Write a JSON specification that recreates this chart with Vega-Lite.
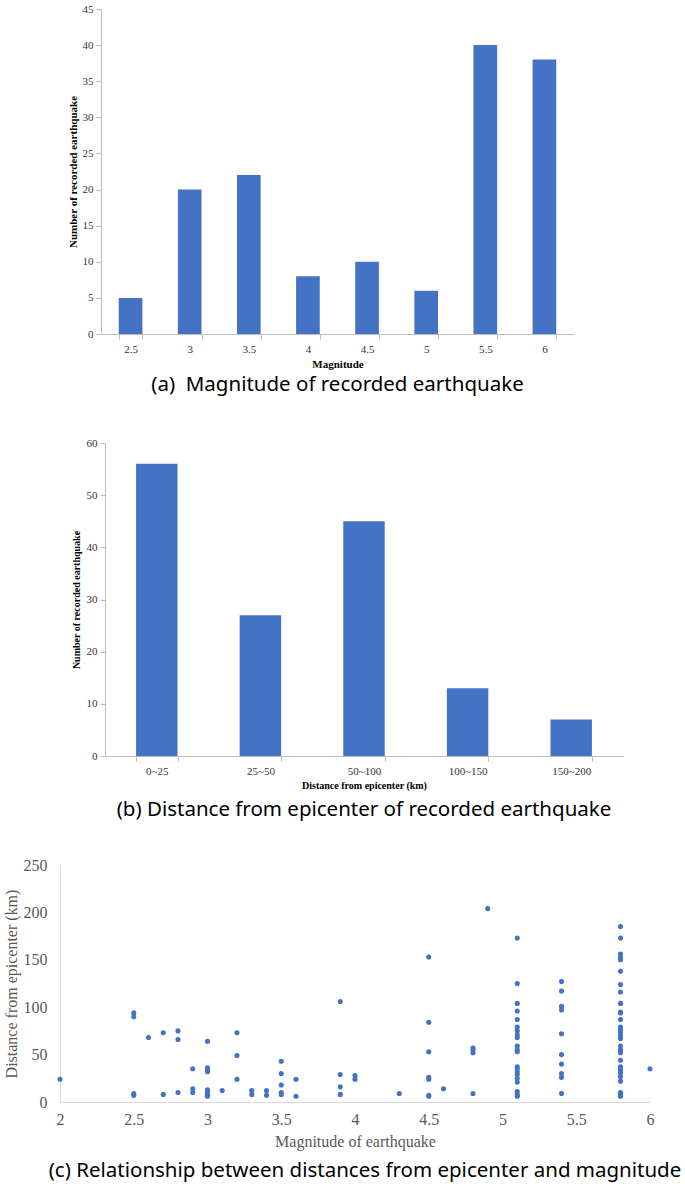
{
  "$schema": "https://vega.github.io/schema/vega-lite/v6.json",
  "background": "white",
  "padding": {"left": 3, "top": 3, "right": 0, "bottom": 0},
  "spacing": 0,
  "config": {
    "view": {"stroke": null},
    "font": "Liberation Serif",
    "title": {"font": "Noto Sans", "fontSize": 20.5, "fontWeight": "normal", "color": "#000000", "orient": "bottom", "frame": "group", "anchor": "middle"}
  },
  "vconcat": [
    {
      "bounds": "flush",
      "spacing": 0,
      "hconcat": [
        {"width": 41, "height": 428, "data": {"values": []}, "mark": {"type": "point", "opacity": 0}},
        {
          "width": 473,
          "height": 325,
          "title": {"text": "(a)\u00a0 Magnitude of recorded earthquake", "offset": 6},
          "data": {"values": [
            {"magnitude": "2.5", "count": 5},
            {"magnitude": "3", "count": 20},
            {"magnitude": "3.5", "count": 22},
            {"magnitude": "4", "count": 8},
            {"magnitude": "4.5", "count": 10},
            {"magnitude": "5", "count": 6},
            {"magnitude": "5.5", "count": 40},
            {"magnitude": "6", "count": 38}
          ]},
          "mark": {"type": "bar", "color": "#4472C4"},
          "encoding": {
            "x": {"field": "magnitude", "type": "ordinal", "sort": null,
              "scale": {"paddingInner": 0.6, "paddingOuter": 0.3},
              "axis": {"title": "Magnitude", "titleFont": "Liberation Serif", "titleFontWeight": "bold", "titleFontSize": 11, "titleColor": "#000000", "titlePadding": 4,
                "labelAngle": 0, "labelFontSize": 11, "labelColor": "#333333", "labelPadding": 4,
                "tickBand": "extent", "tickSize": 5, "tickColor": "#bfbfbf", "domainColor": "#bfbfbf", "grid": false}},
            "y": {"field": "count", "type": "quantitative", "scale": {"domain": [0, 45]},
              "axis": {"title": "Number of recorded earthquake", "values": [0, 5, 10, 15, 20, 25, 30, 35, 40, 45],
                "titleFont": "Liberation Serif", "titleFontWeight": "bold", "titleFontSize": 11, "titleColor": "#000000", "titlePadding": 4,
                "labelFontSize": 11, "labelColor": "#333333", "labelPadding": 3,
                "tickSize": 5, "tickColor": "#bfbfbf", "domainColor": "#bfbfbf", "grid": false}}
          }
        }
      ]
    },
    {
      "bounds": "flush",
      "spacing": 0,
      "hconcat": [
        {"width": 45, "height": 414, "data": {"values": []}, "mark": {"type": "point", "opacity": 0}},
        {
          "width": 518,
          "height": 313,
          "title": {"text": "(b) Distance from epicenter of recorded earthquake", "offset": 10},
          "data": {"values": [
            {"distance": "0~25", "count": 56},
            {"distance": "25~50", "count": 27},
            {"distance": "50~100", "count": 45},
            {"distance": "100~150", "count": 13},
            {"distance": "150~200", "count": 7}
          ]},
          "mark": {"type": "bar", "color": "#4472C4"},
          "encoding": {
            "x": {"field": "distance", "type": "ordinal", "sort": null,
              "scale": {"paddingInner": 0.6, "paddingOuter": 0.3},
              "axis": {"title": "Distance from epicenter (km)", "titleFont": "Liberation Serif", "titleFontWeight": "bold", "titleFontSize": 10, "titleColor": "#000000", "titlePadding": 4,
                "labelAngle": 0, "labelFontSize": 11, "labelColor": "#333333", "labelPadding": 4,
                "tickBand": "extent", "tickSize": 5, "tickColor": "#bfbfbf", "domainColor": "#bfbfbf", "grid": false}},
            "y": {"field": "count", "type": "quantitative", "scale": {"domain": [0, 60]},
              "axis": {"title": "Number of recorded earthquake", "values": [0, 10, 20, 30, 40, 50, 60],
                "titleFont": "Liberation Serif", "titleFontWeight": "bold", "titleFontSize": 10, "titleColor": "#000000", "titlePadding": 5,
                "labelFontSize": 11, "labelColor": "#333333", "labelPadding": 3,
                "tickSize": 5, "tickColor": "#bfbfbf", "domainColor": "#bfbfbf", "grid": false}}
          }
        }
      ]
    },
    {
      "width": 590,
      "height": 237,
      "title": {"text": "(c) Relationship between distances from epicenter and magnitude", "offset": 12, "dx": 10},
      "data": {"values": [
        {"magnitude": 2.0, "distance": 24},
        {"magnitude": 2.5, "distance": 94}, {"magnitude": 2.5, "distance": 90}, {"magnitude": 2.5, "distance": 9}, {"magnitude": 2.5, "distance": 7},
        {"magnitude": 2.6, "distance": 68},
        {"magnitude": 2.7, "distance": 73}, {"magnitude": 2.7, "distance": 8},
        {"magnitude": 2.8, "distance": 75}, {"magnitude": 2.8, "distance": 66}, {"magnitude": 2.8, "distance": 10},
        {"magnitude": 2.9, "distance": 35}, {"magnitude": 2.9, "distance": 14}, {"magnitude": 2.9, "distance": 10},
        {"magnitude": 3.0, "distance": 64}, {"magnitude": 3.0, "distance": 36}, {"magnitude": 3.0, "distance": 34}, {"magnitude": 3.0, "distance": 32},
        {"magnitude": 3.0, "distance": 13}, {"magnitude": 3.0, "distance": 11}, {"magnitude": 3.0, "distance": 8}, {"magnitude": 3.0, "distance": 6},
        {"magnitude": 3.1, "distance": 12},
        {"magnitude": 3.2, "distance": 73}, {"magnitude": 3.2, "distance": 49}, {"magnitude": 3.2, "distance": 24},
        {"magnitude": 3.3, "distance": 12}, {"magnitude": 3.3, "distance": 8},
        {"magnitude": 3.4, "distance": 12}, {"magnitude": 3.4, "distance": 7},
        {"magnitude": 3.5, "distance": 43}, {"magnitude": 3.5, "distance": 30}, {"magnitude": 3.5, "distance": 18}, {"magnitude": 3.5, "distance": 10}, {"magnitude": 3.5, "distance": 8},
        {"magnitude": 3.6, "distance": 24}, {"magnitude": 3.6, "distance": 6},
        {"magnitude": 3.9, "distance": 106}, {"magnitude": 3.9, "distance": 29}, {"magnitude": 3.9, "distance": 16}, {"magnitude": 3.9, "distance": 8},
        {"magnitude": 4.0, "distance": 28}, {"magnitude": 4.0, "distance": 24},
        {"magnitude": 4.3, "distance": 9},
        {"magnitude": 4.5, "distance": 153}, {"magnitude": 4.5, "distance": 84}, {"magnitude": 4.5, "distance": 53}, {"magnitude": 4.5, "distance": 26},
        {"magnitude": 4.5, "distance": 24}, {"magnitude": 4.5, "distance": 7}, {"magnitude": 4.5, "distance": 6},
        {"magnitude": 4.6, "distance": 14},
        {"magnitude": 4.8, "distance": 57}, {"magnitude": 4.8, "distance": 55}, {"magnitude": 4.8, "distance": 52}, {"magnitude": 4.8, "distance": 9},
        {"magnitude": 4.9, "distance": 204},
        {"magnitude": 5.1, "distance": 173}, {"magnitude": 5.1, "distance": 125}, {"magnitude": 5.1, "distance": 104}, {"magnitude": 5.1, "distance": 96},
        {"magnitude": 5.1, "distance": 87}, {"magnitude": 5.1, "distance": 79}, {"magnitude": 5.1, "distance": 75}, {"magnitude": 5.1, "distance": 71},
        {"magnitude": 5.1, "distance": 68}, {"magnitude": 5.1, "distance": 59}, {"magnitude": 5.1, "distance": 55}, {"magnitude": 5.1, "distance": 53},
        {"magnitude": 5.1, "distance": 37}, {"magnitude": 5.1, "distance": 35}, {"magnitude": 5.1, "distance": 32}, {"magnitude": 5.1, "distance": 29},
        {"magnitude": 5.1, "distance": 25}, {"magnitude": 5.1, "distance": 21}, {"magnitude": 5.1, "distance": 11}, {"magnitude": 5.1, "distance": 8},
        {"magnitude": 5.1, "distance": 6},
        {"magnitude": 5.4, "distance": 127}, {"magnitude": 5.4, "distance": 117}, {"magnitude": 5.4, "distance": 101}, {"magnitude": 5.4, "distance": 97},
        {"magnitude": 5.4, "distance": 72}, {"magnitude": 5.4, "distance": 50}, {"magnitude": 5.4, "distance": 40}, {"magnitude": 5.4, "distance": 30},
        {"magnitude": 5.4, "distance": 26}, {"magnitude": 5.4, "distance": 9},
        {"magnitude": 5.8, "distance": 185}, {"magnitude": 5.8, "distance": 173}, {"magnitude": 5.8, "distance": 156}, {"magnitude": 5.8, "distance": 153},
        {"magnitude": 5.8, "distance": 150}, {"magnitude": 5.8, "distance": 138}, {"magnitude": 5.8, "distance": 124}, {"magnitude": 5.8, "distance": 116},
        {"magnitude": 5.8, "distance": 104}, {"magnitude": 5.8, "distance": 95}, {"magnitude": 5.8, "distance": 94}, {"magnitude": 5.8, "distance": 87},
        {"magnitude": 5.8, "distance": 79}, {"magnitude": 5.8, "distance": 76}, {"magnitude": 5.8, "distance": 73}, {"magnitude": 5.8, "distance": 70},
        {"magnitude": 5.8, "distance": 67}, {"magnitude": 5.8, "distance": 59}, {"magnitude": 5.8, "distance": 55}, {"magnitude": 5.8, "distance": 52},
        {"magnitude": 5.8, "distance": 44}, {"magnitude": 5.8, "distance": 37}, {"magnitude": 5.8, "distance": 34}, {"magnitude": 5.8, "distance": 31},
        {"magnitude": 5.8, "distance": 27}, {"magnitude": 5.8, "distance": 22}, {"magnitude": 5.8, "distance": 10}, {"magnitude": 5.8, "distance": 8},
        {"magnitude": 5.8, "distance": 6},
        {"magnitude": 6.0, "distance": 35}
      ]},
      "mark": {"type": "circle", "size": 26, "color": "#4472C4", "opacity": 1},
      "encoding": {
        "x": {"field": "magnitude", "type": "quantitative", "scale": {"domain": [2, 6], "nice": false, "zero": false},
          "axis": {"title": "Magnitude of earthquake", "values": [2, 2.5, 3, 3.5, 4, 4.5, 5, 5.5, 6], "format": "~g",
            "ticks": false, "grid": false, "domainColor": "#d9d9d9", "labelFlush": false,
            "labelFontSize": 16, "labelColor": "#595959", "labelPadding": 9,
            "titleFont": "Liberation Serif", "titleFontWeight": "normal", "titleFontSize": 16, "titleColor": "#595959", "titlePadding": 6}},
        "y": {"field": "distance", "type": "quantitative", "scale": {"domain": [0, 250], "nice": false},
          "axis": {"title": "Distance from epicenter (km)", "values": [0, 50, 100, 150, 200, 250],
            "ticks": false, "grid": false, "domainColor": "#d9d9d9",
            "labelFontSize": 16, "labelColor": "#595959", "labelPadding": 13,
            "titleFont": "Liberation Serif", "titleFontWeight": "normal", "titleFontSize": 16, "titleColor": "#595959", "titlePadding": 4}}
      }
    }
  ]
}
